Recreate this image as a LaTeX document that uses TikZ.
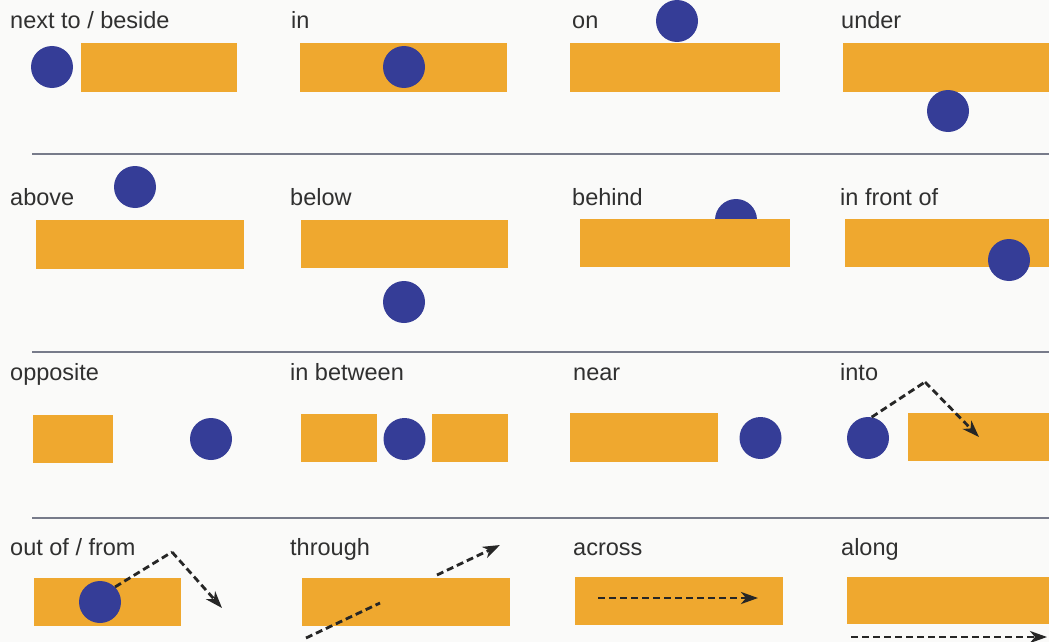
\documentclass[tikz,border=0pt]{standalone}
\usepackage{fontspec}
\setmainfont{Liberation Sans}
\usetikzlibrary{arrows.meta}
\definecolor{barorange}{HTML}{EFA82F}
\definecolor{dotblue}{HTML}{353D97}
\definecolor{rulegray}{HTML}{777B8A}
\definecolor{labelgray}{HTML}{303030}
\definecolor{paper}{HTML}{FAFAF9}
\tikzset{
  bar/.style={fill=barorange, draw=none, inner sep=0pt, minimum height=48pt},
  dot/.style={circle, fill=dotblue, draw=none, inner sep=0pt, minimum size=42pt},
  lbl/.style={anchor=base west, inner sep=0pt, text=labelgray, font=\fontsize{23.5}{27}\selectfont},
  sep/.style={draw=rulegray, line width=1.6pt},
  dashline/.style={draw=black!85, line width=2.8pt, dash pattern=on 7pt off 4pt},
  darrow/.style={dashline, -{Stealth[length=17pt,width=12pt,inset=5pt]}}
}
\begin{document}
\begin{tikzpicture}[x=1pt,y=-1pt]
\useasboundingbox (0,0) rectangle (1049,642);
\clip (0,0) rectangle (1049,642);
\fill[paper] (0,0) rectangle (1049,642);

% ---------- row 1 ----------
\node[lbl] (l1) at (10,29) {next to / beside};
\node[lbl] (l2) at (291,29) {in};
\node[lbl] (l3) at (572,29) {on};
\node[lbl] (l4) at (841,29) {under};
\node[bar, minimum width=156pt, minimum height=49pt] (r1) at (159,67.5) {};
\node[dot] (c1) at (52,67) {};
\node[bar, minimum width=207pt, minimum height=49pt] (r2) at (403.5,67.5) {};
\node[dot] (c2) at (404,67) {};
\node[bar, minimum width=210pt, minimum height=49pt] (r3) at (675,67.5) {};
\node[dot] (c3) at (677,21) {};
\node[bar, minimum width=217pt, minimum height=49pt] (r4) at (951.5,67.5) {};
\node[dot] (c4) at (948,111) {};

\coordinate (s1a) at (32,154); \coordinate (s1b) at (1049,154);
\draw[sep] (s1a) -- (s1b);

% ---------- row 2 ----------
\node[lbl] (l5) at (10,205) {above};
\node[lbl] (l6) at (290,205) {below};
\node[lbl] (l7) at (572,205) {behind};
\node[lbl] (l8) at (840,205) {in front of};
\node[bar, minimum width=208pt, minimum height=49pt] (r5) at (140,244.5) {};
\node[dot] (c5) at (135,187) {};
\node[bar, minimum width=207pt] (r6) at (404.5,244) {};
\node[dot] (c6) at (404,302) {};
\node[dot] (c7) at (736,220) {};
\node[bar, minimum width=210pt] (r7) at (685,243) {};
\node[bar, minimum width=215pt] (r8) at (952.5,243) {};
\node[dot] (c8) at (1009,260) {};

\coordinate (s2a) at (32,352); \coordinate (s2b) at (1049,352);
\draw[sep] (s2a) -- (s2b);

% ---------- row 3 ----------
\node[lbl] (l9) at (10,380) {opposite};
\node[lbl] (l10) at (290,380) {in between};
\node[lbl] (l11) at (573,380) {near};
\node[lbl] (l12) at (840,380) {into};
\node[bar, minimum width=80pt] (r9) at (73,439) {};
\node[dot] (c9) at (211,439) {};
\node[bar, minimum width=76pt] (r10a) at (339,438) {};
\node[dot] (c10) at (404.5,439) {};
\node[bar, minimum width=76pt] (r10b) at (470,438) {};
\node[bar, minimum width=148pt, minimum height=49pt] (r11) at (644,437.5) {};
\node[dot] (c11) at (760.5,438) {};
\node[dot] (c12) at (868,438) {};
\node[bar, minimum width=152pt] (r12) at (984,437) {};
\coordinate (p12) at (925,382);
\coordinate (t12) at (979,437);
\draw[dashline] (c12.80) -- (p12);
\draw[darrow] (p12) -- (t12);

\coordinate (s3a) at (32,518); \coordinate (s3b) at (1049,518);
\draw[sep] (s3a) -- (s3b);

% ---------- row 4 ----------
\node[lbl] (l13) at (10,555) {out of / from};
\node[lbl] (l14) at (290,555) {through};
\node[lbl] (l15) at (573,555) {across};
\node[lbl] (l16) at (841,555) {along};
\node[bar, minimum width=147pt] (r13) at (107.5,602) {};
\node[dot] (c13) at (100,602) {};
\coordinate (p13) at (172,552);
\coordinate (t13) at (222,608);
\draw[dashline] (c13.north east) -- (p13);
\draw[darrow] (p13) -- (t13);

\node[bar, minimum width=208pt] (r14) at (406,602) {};
\coordinate (a14) at (306,638);
\coordinate (b14) at (380,603);
\coordinate (c14) at (437,575);
\coordinate (t14) at (500,545);
\draw[dashline] (a14) -- (b14);
\draw[darrow] (c14) -- (t14);

\node[bar, minimum width=208pt] (r15) at (679,601) {};
\coordinate (a15) at (598,598);
\coordinate (t15) at (758,598);
\draw[darrow] (a15) -- (t15);

\node[bar, minimum width=213pt, minimum height=47pt] (r16) at (953.5,600.5) {};
\coordinate (a16) at (851,637);
\coordinate (t16) at (1047,637);
\draw[darrow] (a16) -- (t16);
\end{tikzpicture}
\end{document}
